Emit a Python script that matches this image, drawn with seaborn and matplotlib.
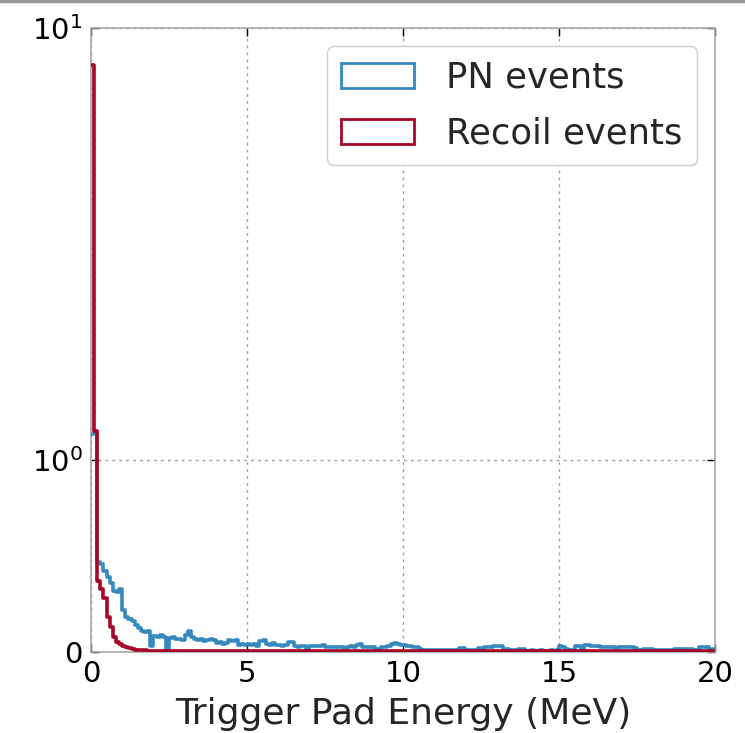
import numpy as np
import pandas as pd
import matplotlib
matplotlib.use("Agg")
import matplotlib.pyplot as plt
import seaborn as sns
from matplotlib.patches import Patch
from matplotlib.lines import Line2D
from matplotlib.ticker import NullLocator

# ---------------- data (density per 0.1 MeV bin) ----------------
x_range_mev = [0.0, 20.0]
n_bins = 200

pn_density = [
    1.15, 1.15, 0.47, 0.46, 0.42, 0.39, 0.36, 0.32, 0.31, 0.33,
    0.22, 0.18, 0.17, 0.16, 0.14, 0.125, 0.11, 0.105, 0.11, 0.03,
    0.085, 0.08, 0.09, 0.08, 0.015, 0.075, 0.08, 0.07, 0.07, 0.065,
    0.09, 0.11, 0.08, 0.07, 0.065, 0.07, 0.055, 0.06, 0.07, 0.065,
    0.045, 0.05, 0.04, 0.045, 0.06, 0.055, 0.06, 0.035, 0.04, 0.035,
    0.04, 0.035, 0.04, 0.03, 0.055, 0.06, 0.04, 0.035, 0.045, 0.035,
    0.035, 0.03, 0.035, 0.05, 0.05, 0.03, 0.025, 0.03, 0.03, 0.015,
    0.03, 0.03, 0.03, 0.03, 0.035, 0.025, 0.025, 0.025, 0.025, 0.025,
    0.025, 0.02, 0.025, 0.03, 0.025, 0.035, 0.042, 0.025, 0.025, 0.025,
    0.025, 0.015, 0.015, 0.025, 0.025, 0.03, 0.04, 0.045, 0.04, 0.035,
    0.035, 0.03, 0.03, 0.025, 0.025, 0.015, 0.012, 0.008, 0.008, 0.008,
    0.008, 0.012, 0.008, 0.008, 0.008, 0.012, 0.008, 0.008, 0.02, 0.02,
    0.008, 0.008, 0.012, 0.008, 0.02, 0.015, 0.025, 0.025, 0.025, 0.03,
    0.03, 0.03, 0.016, 0.016, 0.008, 0.012, 0.008, 0.016, 0.016, 0.005,
    0.005, 0.008, 0.005, 0.005, 0.008, 0.005, 0.005, 0.008, 0.005, 0.008,
    0.03, 0.025, 0.015, 0.012, 0.012, 0.03, 0.03, 0.015, 0.035, 0.035,
    0.03, 0.03, 0.03, 0.025, 0.025, 0.025, 0.025, 0.025, 0.015, 0.025,
    0.025, 0.025, 0.025, 0.025, 0.022, 0.012, 0.008, 0.016, 0.016, 0.016,
    0.008, 0.008, 0.008, 0.008, 0.008, 0.008, 0.008, 0.016, 0.016, 0.016,
    0.016, 0.016, 0.016, 0.008, 0.008, 0.025, 0.025, 0.025, 0.008, 0.016,
]

recoil_density = [
    8.2, 1.17, 0.37, 0.33, 0.28, 0.18, 0.13, 0.08, 0.05, 0.04,
    0.03, 0.025, 0.02, 0.015, 0.012, 0.01, 0.009, 0.008, 0.007, 0.006,
    0.006, 0.005, 0.005, 0.005, 0.004, 0.004, 0.004, 0.004, 0.004, 0.004,
    0.004, 0.004, 0.004, 0.004, 0.004, 0.004, 0.004, 0.004, 0.004, 0.004,
    0.004, 0.004, 0.004, 0.004, 0.004, 0.004, 0.004, 0.004, 0.004, 0.004,
    0.004, 0.004, 0.004, 0.004, 0.004, 0.004, 0.004, 0.004, 0.004, 0.004,
    0.004, 0.004, 0.004, 0.004, 0.004, 0.004, 0.004, 0.004, 0.004, 0.004,
    0.004, 0.004, 0.004, 0.004, 0.004, 0.004, 0.004, 0.004, 0.004, 0.004,
    0.004, 0.004, 0.004, 0.004, 0.004, 0.004, 0.004, 0.004, 0.004, 0.004,
    0.004, 0.004, 0.004, 0.004, 0.004, 0.004, 0.004, 0.004, 0.004, 0.004,
    0.004, 0.004, 0.004, 0.004, 0.004, 0.004, 0.004, 0.004, 0.004, 0.004,
    0.004, 0.004, 0.004, 0.004, 0.004, 0.004, 0.004, 0.004, 0.004, 0.004,
    0.004, 0.004, 0.004, 0.004, 0.004, 0.004, 0.004, 0.004, 0.004, 0.004,
    0.004, 0.004, 0.004, 0.004, 0.004, 0.004, 0.004, 0.004, 0.004, 0.004,
    0.004, 0.004, 0.004, 0.004, 0.004, 0.004, 0.004, 0.004, 0.004, 0.004,
    0.004, 0.004, 0.004, 0.004, 0.004, 0.004, 0.004, 0.004, 0.004, 0.004,
    0.004, 0.004, 0.004, 0.004, 0.004, 0.004, 0.004, 0.004, 0.004, 0.004,
    0.004, 0.004, 0.004, 0.004, 0.004, 0.004, 0.004, 0.004, 0.004, 0.004,
    0.004, 0.004, 0.004, 0.004, 0.004, 0.004, 0.004, 0.004, 0.004, 0.004,
    0.004, 0.004, 0.004, 0.004, 0.004, 0.004, 0.004, 0.004, 0.004, 0.004,
]

series_labels = ["PN events", "Recoil events"]
series_colors = ["#348ABD", "#A60628"]
x_ticks = [0, 5, 10, 15, 20]
y_ticks = [0, 1, 10]
y_ticklabels = ["0", r"$10^0$", r"$10^1$"]
x_label = "Trigger Pad Energy (MeV)"

# ---------------- figure ----------------
sns.set_theme(style="white")
plt.rcParams["font.family"] = ["DejaVu Sans"]

edges = np.linspace(x_range_mev[0], x_range_mev[1], n_bins + 1)
centers = 0.5 * (edges[:-1] + edges[1:])
df = pd.DataFrame({"energy": centers, "pn": pn_density, "recoil": recoil_density})

fig = plt.figure(figsize=(7.45, 7.33), dpi=100)
ax = fig.add_axes([91 / 745, 1 - 652 / 733, (715 - 91) / 745, (652 - 28) / 733])

for col, color in zip(["pn", "recoil"], series_colors):
    sns.histplot(data=df, x="energy", weights=col, bins=edges.tolist(), element="step",
                 fill=False, color=color, linewidth=2.6, ax=ax, zorder=3)

ax.set_yscale("symlog", linthresh=1, linscale=0.4)
ax.set_ylim(0, 10)
ax.set_xlim(0, 20)
ax.yaxis.set_minor_locator(NullLocator())
ax.xaxis.set_minor_locator(NullLocator())
ax.set_yticks(y_ticks)
ax.set_yticklabels(y_ticklabels)
ax.set_xticks(x_ticks)
ax.set_xticklabels([str(t) for t in x_ticks])
ax.set_ylabel("")
ax.set_xlabel(x_label, fontsize=26, labelpad=6)

ax.tick_params(axis="both", which="major", direction="in", length=6, width=1,
               colors="black", labelsize=21, pad=6, top=True, right=True,
               bottom=True, left=True)
for s in ax.spines.values():
    s.set_color("#a8a8a8")
    s.set_linewidth(1.2)
    s.set_zorder(1.5)

ax.grid(True, which="major", linestyle=(0, (2, 3)), color="#a0a0a0", linewidth=1)
ax.set_axisbelow(True)

handles = [Patch(facecolor="none", edgecolor=c, linewidth=2, label=l)
           for c, l in zip(series_colors, series_labels)]
leg = ax.legend(handles=handles, loc="upper right", fontsize=25.5, frameon=True,
                fancybox=True, framealpha=1, edgecolor="#cccccc",
                handlelength=2.06, handleheight=0.7, handletextpad=0.9,
                borderaxespad=0.52, labelspacing=0.62, borderpad=0.4)
leg.set_zorder(5)

fig.add_artist(Line2D([0, 1], [0.998, 0.998], transform=fig.transFigure,
                      color="#9a9a9a", linewidth=2.5))

fig.savefig("out.png", dpi=100)
